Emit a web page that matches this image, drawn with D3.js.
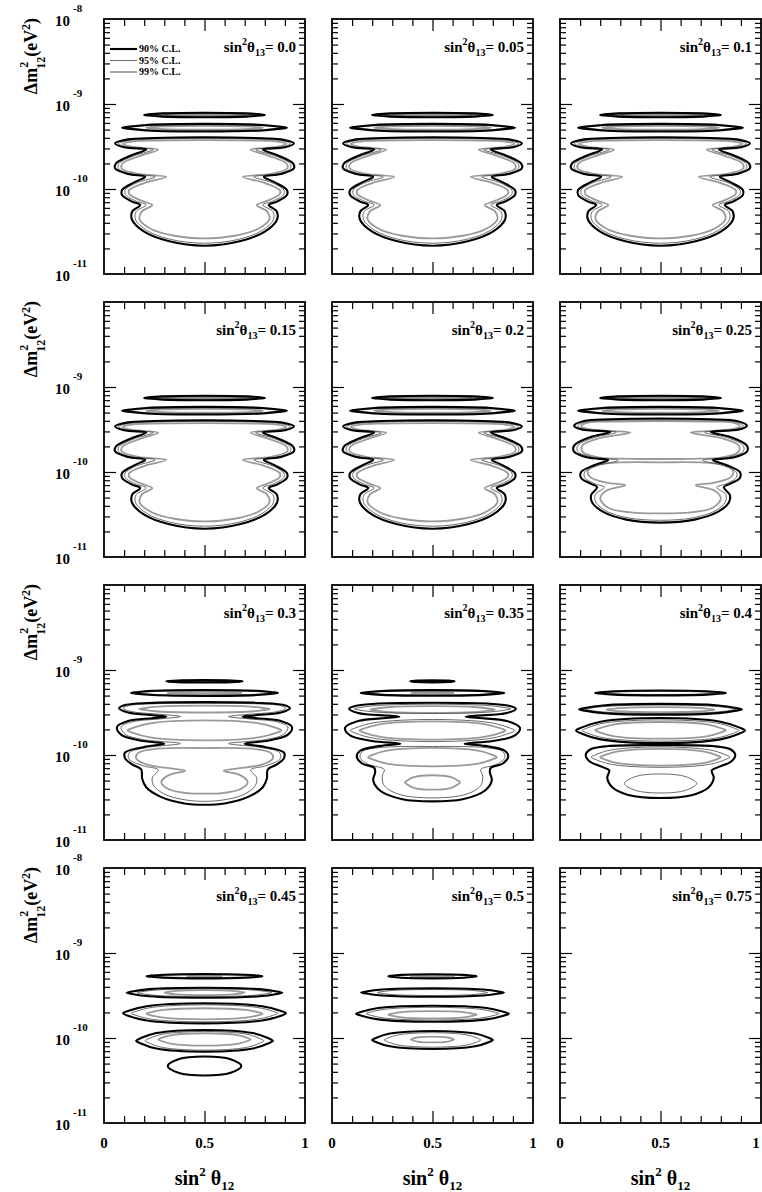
<!DOCTYPE html>
<html>
<head>
<meta charset="utf-8">
<script src="https://cdn.jsdelivr.net/npm/d3@7"></script>
<style>
body { margin:0; background:#fff; }
text { font-family:"Liberation Serif","Times New Roman",serif; font-weight:bold; fill:#000; }
</style>
</head>
<body>
<div class="container"></div>
<script>
// panel titles (value of sin^2 theta13)
var titles = ["0.0","0.05","0.1","0.15","0.2","0.25","0.3","0.35","0.4","0.45","0.5","0.75"];
var clNames = ["90% C.L.","95% C.L.","99% C.L."];
var decadeLabels = [[-8,-9,-10,-11],[-9,-10,-11],[-9,-10,-11],[-8,-9,-10,-11]];
var xTickLabels = [[0,"0"],[0.5,"0.5"],[1,"1"]];

// contour half outlines: [sin^2 theta12, log10 dm2], right half, top to bottom (mirrored about 0.5)
// sin^2 theta13 = 0 .. 0.2
var islA90 = [[0.5,-9.103],[0.71,-9.110],[0.779,-9.122],[0.80,-9.129],[0.779,-9.136],[0.71,-9.148],[0.5,-9.155]];
var islA95 = [[0.5,-9.114],[0.68,-9.118],[0.742,-9.125],[0.76,-9.129],[0.742,-9.133],[0.68,-9.140],[0.5,-9.144]];
var islA99 = [[0.5,-9.121],[0.64,-9.123],[0.686,-9.127],[0.70,-9.129],[0.686,-9.131],[0.64,-9.135],[0.5,-9.137]];
var islB90 = [[0.5,-9.234],[0.79,-9.247],[0.881,-9.268],[0.91,-9.279],[0.881,-9.290],[0.79,-9.311],[0.5,-9.324]];
var islB95 = [[0.5,-9.244],[0.77,-9.254],[0.858,-9.270],[0.885,-9.279],[0.858,-9.288],[0.77,-9.304],[0.5,-9.314]];
var islB99 = [[0.5,-9.257],[0.705,-9.263],[0.770,-9.2735],[0.79,-9.279],[0.770,-9.2845],[0.705,-9.295],[0.5,-9.301]];
var main90 = [[0.5,-9.392],[0.75,-9.40],[0.88,-9.416],[0.945,-9.463],[0.90,-9.51],[0.79,-9.535],[0.86,-9.60],[0.94,-9.698],[0.945,-9.757],[0.88,-9.824],[0.795,-9.855],[0.85,-9.922],[0.91,-10.012],[0.91,-10.071],[0.86,-10.149],[0.82,-10.188],[0.86,-10.267],[0.86,-10.365],[0.80,-10.502],[0.68,-10.612],[0.5,-10.667]];
var main95 = [[0.5,-9.405],[0.75,-9.412],[0.87,-9.428],[0.928,-9.465],[0.885,-9.507],[0.755,-9.537],[0.845,-9.605],[0.925,-9.70],[0.928,-9.757],[0.865,-9.822],[0.745,-9.857],[0.835,-9.925],[0.895,-10.012],[0.893,-10.068],[0.84,-10.143],[0.79,-10.188],[0.84,-10.265],[0.843,-10.36],[0.785,-10.49],[0.67,-10.592],[0.5,-10.638]];
var main99 = [[0.5,-9.425],[0.75,-9.43],[0.86,-9.442],[0.907,-9.468],[0.86,-9.505],[0.73,-9.537],[0.82,-9.61],[0.908,-9.70],[0.912,-9.757],[0.83,-9.822],[0.69,-9.857],[0.80,-9.93],[0.875,-10.015],[0.873,-10.065],[0.81,-10.14],[0.76,-10.19],[0.81,-10.26],[0.823,-10.355],[0.765,-10.47],[0.65,-10.55],[0.5,-10.58]];
// 0.25
var q90 = [[0.5,-9.37],[0.75,-9.38],[0.88,-9.40],[0.93,-9.455],[0.89,-9.50],[0.75,-9.53],[0.85,-9.59],[0.93,-9.69],[0.93,-9.76],[0.86,-9.83],[0.76,-9.86],[0.83,-9.92],[0.895,-10.0],[0.895,-10.07],[0.845,-10.14],[0.815,-10.18],[0.845,-10.27],[0.84,-10.36],[0.785,-10.47],[0.67,-10.56],[0.5,-10.595]];
var q95 = [[0.5,-9.385],[0.75,-9.393],[0.87,-9.41],[0.912,-9.457],[0.87,-9.50],[0.72,-9.533],[0.83,-9.595],[0.912,-9.69],[0.912,-9.757],[0.84,-9.826],[0.71,-9.862],[0.81,-9.924],[0.877,-10.0],[0.877,-10.066],[0.825,-10.14],[0.78,-10.18],[0.825,-10.266],[0.822,-10.355],[0.77,-10.46],[0.66,-10.54],[0.5,-10.568]];
var q99u = [[0.5,-9.40],[0.75,-9.407],[0.86,-9.42],[0.895,-9.46],[0.85,-9.50],[0.65,-9.535],[0.80,-9.60],[0.89,-9.69],[0.885,-9.77],[0.80,-9.83],[0.65,-9.845],[0.5,-9.847]];
var q99l = [[0.5,-9.886],[0.72,-9.89],[0.82,-9.92],[0.862,-9.99],[0.85,-10.06],[0.77,-10.125],[0.675,-10.155],[0.77,-10.22],[0.80,-10.31],[0.76,-10.42],[0.65,-10.475],[0.5,-10.487]];
// 0.3
var r90a = [[0.5,-9.119],[0.635,-9.123],[0.677,-9.1295],[0.69,-9.133],[0.677,-9.1365],[0.635,-9.143],[0.5,-9.147]];
var r95a = [[0.5,-9.127],[0.6,-9.129],[0.64,-9.1315],[0.65,-9.133],[0.64,-9.1345],[0.6,-9.137],[0.5,-9.139]];
var r90b = [[0.5,-9.235],[0.76,-9.245],[0.839,-9.261],[0.865,-9.27],[0.839,-9.279],[0.76,-9.295],[0.5,-9.305]];
var r95b = [[0.5,-9.244],[0.735,-9.252],[0.807,-9.2635],[0.83,-9.27],[0.807,-9.2765],[0.735,-9.288],[0.5,-9.296]];
var r99b = [[0.5,-9.258],[0.63,-9.262],[0.672,-9.267],[0.685,-9.27],[0.672,-9.273],[0.63,-9.278],[0.5,-9.282]];
var r90 = [[0.5,-9.378],[0.78,-9.388],[0.89,-9.41],[0.925,-9.45],[0.88,-9.50],[0.74,-9.535],[0.69,-9.549],[0.76,-9.567],[0.88,-9.60],[0.935,-9.67],[0.915,-9.76],[0.82,-9.83],[0.70,-9.868],[0.80,-9.905],[0.895,-9.97],[0.895,-10.04],[0.86,-10.11],[0.815,-10.17],[0.81,-10.28],[0.79,-10.38],[0.72,-10.49],[0.6,-10.57],[0.5,-10.585]];
var r95 = [[0.5,-9.392],[0.78,-9.40],[0.88,-9.42],[0.905,-9.45],[0.86,-9.49],[0.70,-9.525],[0.62,-9.548],[0.72,-9.575],[0.86,-9.61],[0.915,-9.67],[0.895,-9.755],[0.80,-9.82],[0.62,-9.865],[0.78,-9.91],[0.875,-9.975],[0.875,-10.05],[0.80,-10.13],[0.73,-10.175],[0.76,-10.27],[0.75,-10.37],[0.69,-10.47],[0.59,-10.53],[0.5,-10.545]];
var r99a = [[0.5,-9.42],[0.73,-9.432],[0.802,-9.45],[0.825,-9.46],[0.802,-9.47],[0.73,-9.488],[0.5,-9.50]];
var r99c = [[0.5,-9.593],[0.77,-9.627],[0.856,-9.68],[0.883,-9.71],[0.856,-9.74],[0.77,-9.793],[0.5,-9.827]];
var r99d = [[0.5,-9.918],[0.75,-9.93],[0.83,-9.975],[0.84,-10.04],[0.79,-10.11],[0.66,-10.16],[0.595,-10.185],[0.68,-10.24],[0.715,-10.32],[0.68,-10.40],[0.6,-10.445],[0.5,-10.455]];
// 0.35
var s90a = [[0.5,-9.121],[0.58,-9.124],[0.602,-9.130],[0.61,-9.133],[0.602,-9.136],[0.58,-9.142],[0.5,-9.145]];
var s90b = [[0.5,-9.237],[0.755,-9.247],[0.832,-9.262],[0.857,-9.27],[0.832,-9.278],[0.755,-9.293],[0.5,-9.303]];
var s95b = [[0.5,-9.246],[0.73,-9.253],[0.798,-9.264],[0.82,-9.27],[0.798,-9.276],[0.73,-9.287],[0.5,-9.294]];
var s99b = [[0.5,-9.262],[0.575,-9.264],[0.598,-9.268],[0.605,-9.27],[0.598,-9.272],[0.575,-9.276],[0.5,-9.278]];
var s90 = [[0.5,-9.386],[0.77,-9.395],[0.88,-9.42],[0.915,-9.455],[0.87,-9.505],[0.72,-9.537],[0.665,-9.549],[0.73,-9.565],[0.87,-9.60],[0.935,-9.68],[0.91,-9.77],[0.80,-9.835],[0.66,-9.868],[0.76,-9.893],[0.86,-9.95],[0.877,-10.02],[0.85,-10.10],[0.79,-10.15],[0.785,-10.2],[0.795,-10.3],[0.76,-10.42],[0.65,-10.52],[0.5,-10.545]];
var s95a = [[0.5,-9.402],[0.775,-9.418],[0.863,-9.443],[0.89,-9.457],[0.863,-9.471],[0.775,-9.496],[0.5,-9.512]];
var s95c = [[0.5,-9.582],[0.79,-9.62],[0.881,-9.679],[0.91,-9.712],[0.881,-9.745],[0.79,-9.804],[0.5,-9.842]];
var s95d = [[0.5,-9.90],[0.77,-9.915],[0.85,-9.96],[0.86,-10.03],[0.82,-10.11],[0.74,-10.17],[0.75,-10.25],[0.74,-10.36],[0.67,-10.46],[0.5,-10.505]];
var s99a = [[0.5,-9.426],[0.72,-9.438],[0.788,-9.456],[0.81,-9.466],[0.788,-9.476],[0.72,-9.494],[0.5,-9.506]];
var s99c = [[0.5,-9.604],[0.757,-9.636],[0.838,-9.685],[0.863,-9.712],[0.838,-9.739],[0.757,-9.788],[0.5,-9.82]];
var s99d = [[0.5,-9.917],[0.727,-9.949],[0.798,-9.998],[0.82,-10.025],[0.798,-10.052],[0.727,-10.101],[0.5,-10.133]];
var s99e = [[0.5,-10.238],[0.597,-10.263],[0.627,-10.302],[0.637,-10.323],[0.627,-10.344],[0.597,-10.383],[0.5,-10.408]];
// 0.4
var t90b = [[0.5,-9.242],[0.73,-9.25],[0.802,-9.263],[0.825,-9.27],[0.802,-9.277],[0.73,-9.29],[0.5,-9.298]];
var t95b = [[0.5,-9.252],[0.7,-9.257],[0.76,-9.2655],[0.78,-9.27],[0.76,-9.2745],[0.7,-9.283],[0.5,-9.288]];
var t90c = [[0.5,-9.399],[0.787,-9.417],[0.877,-9.446],[0.905,-9.462],[0.877,-9.478],[0.787,-9.507],[0.5,-9.525]];
var t95c = [[0.5,-9.412],[0.765,-9.427],[0.849,-9.4495],[0.875,-9.462],[0.849,-9.4745],[0.765,-9.497],[0.5,-9.512]];
var t99c = [[0.5,-9.437],[0.69,-9.446],[0.749,-9.4595],[0.768,-9.467],[0.749,-9.4745],[0.69,-9.488],[0.5,-9.497]];
var t90d = [[0.5,-9.565],[0.798,-9.608],[0.891,-9.675],[0.92,-9.712],[0.891,-9.749],[0.798,-9.816],[0.5,-9.859]];
var t95d = [[0.5,-9.587],[0.777,-9.623],[0.863,-9.681],[0.89,-9.712],[0.863,-9.743],[0.777,-9.801],[0.5,-9.837]];
var t99d = [[0.5,-9.612],[0.73,-9.64],[0.802,-9.6855],[0.825,-9.71],[0.802,-9.7345],[0.73,-9.78],[0.5,-9.808]];
var t90e = [[0.5,-9.884],[0.76,-9.895],[0.85,-9.935],[0.872,-10.0],[0.85,-10.08],[0.79,-10.14],[0.755,-10.18],[0.765,-10.27],[0.74,-10.38],[0.66,-10.47],[0.5,-10.506]];
var t95e = [[0.5,-9.905],[0.744,-9.94],[0.821,-9.995],[0.845,-10.025],[0.821,-10.055],[0.744,-10.11],[0.5,-10.145]];
var t99e = [[0.5,-9.929],[0.712,-9.958],[0.779,-10.0025],[0.8,-10.027],[0.779,-10.0515],[0.712,-10.096],[0.5,-10.125]];
var t95f = [[0.5,-10.223],[0.627,-10.256],[0.68,-10.335],[0.627,-10.414],[0.5,-10.447]];
// 0.45
var u90b = [[0.5,-9.247],[0.704,-9.255],[0.768,-9.2665],[0.788,-9.273],[0.768,-9.2795],[0.704,-9.291],[0.5,-9.299]];
var u95b = [[0.5,-9.257],[0.677,-9.262],[0.733,-9.269],[0.75,-9.273],[0.733,-9.277],[0.677,-9.284],[0.5,-9.289]];
var u99b = [[0.5,-9.267],[0.56,-9.269],[0.579,-9.2715],[0.585,-9.273],[0.579,-9.2745],[0.56,-9.277],[0.5,-9.279]];
var u90c = [[0.5,-9.408],[0.775,-9.425],[0.86,-9.452],[0.887,-9.467],[0.86,-9.482],[0.775,-9.509],[0.5,-9.526]];
var u95c = [[0.5,-9.422],[0.738,-9.435],[0.812,-9.456],[0.835,-9.467],[0.812,-9.478],[0.738,-9.499],[0.5,-9.512]];
var u99c = [[0.5,-9.437],[0.642,-9.445],[0.686,-9.459],[0.7,-9.466],[0.686,-9.473],[0.642,-9.487],[0.5,-9.495]];
var u90d = [[0.5,-9.592],[0.787,-9.626],[0.877,-9.68],[0.905,-9.71],[0.877,-9.74],[0.787,-9.794],[0.5,-9.828]];
var u95d = [[0.5,-9.61],[0.758,-9.639],[0.839,-9.685],[0.865,-9.71],[0.839,-9.735],[0.758,-9.781],[0.5,-9.81]];
var u99d = [[0.5,-9.65],[0.705,-9.669],[0.77,-9.699],[0.79,-9.715],[0.77,-9.731],[0.705,-9.761],[0.5,-9.78]];
var u90e = [[0.5,-9.905],[0.74,-9.942],[0.816,-10.001],[0.84,-10.033],[0.816,-10.065],[0.74,-10.124],[0.5,-10.161]];
var u95e = [[0.5,-9.923],[0.709,-9.955],[0.774,-10.0055],[0.795,-10.033],[0.774,-10.0605],[0.709,-10.111],[0.5,-10.143]];
var u99e = [[0.5,-9.944],[0.663,-9.965],[0.714,-9.999],[0.73,-10.017],[0.714,-10.035],[0.663,-10.069],[0.5,-10.09]];
var u90f = [[0.5,-10.218],[0.63,-10.25],[0.683,-10.33],[0.63,-10.41],[0.5,-10.442]];
// 0.5
var v90b = [[0.5,-9.25],[0.656,-9.257],[0.705,-9.268],[0.72,-9.274],[0.705,-9.28],[0.656,-9.291],[0.5,-9.298]];
var v99b = [[0.5,-9.266],[0.576,-9.268],[0.6,-9.272],[0.608,-9.274],[0.6,-9.276],[0.576,-9.28],[0.5,-9.282]];
var v90c = [[0.5,-9.415],[0.752,-9.43],[0.83,-9.4525],[0.855,-9.465],[0.83,-9.4775],[0.752,-9.5],[0.5,-9.515]];
var v95c = [[0.5,-9.43],[0.695,-9.44],[0.756,-9.456],[0.775,-9.465],[0.756,-9.474],[0.695,-9.49],[0.5,-9.5]];
var v90d = [[0.5,-9.62],[0.77,-9.647],[0.853,-9.6905],[0.88,-9.714],[0.853,-9.7375],[0.77,-9.781],[0.5,-9.808]];
var v95d = [[0.5,-9.639],[0.734,-9.661],[0.807,-9.695],[0.83,-9.714],[0.807,-9.733],[0.734,-9.767],[0.5,-9.789]];
var v99d = [[0.5,-9.683],[0.656,-9.695],[0.705,-9.715],[0.72,-9.726],[0.705,-9.737],[0.656,-9.757],[0.5,-9.769]];
var v90e = [[0.5,-9.917],[0.712,-9.948],[0.779,-9.9965],[0.8,-10.023],[0.779,-10.0495],[0.712,-10.098],[0.5,-10.129]];
var v95e = [[0.5,-9.938],[0.67,-9.963],[0.723,-10.002],[0.74,-10.023],[0.723,-10.044],[0.67,-10.083],[0.5,-10.108]];
var v99e = [[0.5,-9.984],[0.576,-9.994],[0.6,-10.0095],[0.607,-10.018],[0.6,-10.0265],[0.576,-10.042],[0.5,-10.052]];

// which contours go in which panel: [C.L. index, outline]
var lowTheta = [[0,islA90],[1,islA95],[2,islA99],[0,islB90],[1,islB95],[2,islB99],[0,main90],[1,main95],[2,main99]];
var panels = [
	lowTheta, lowTheta, lowTheta, lowTheta, lowTheta,
	[[0,islA90],[1,islA95],[2,islA99],[0,islB90],[1,islB95],[2,islB99],[0,q90],[1,q95],[2,q99u],[2,q99l]],
	[[0,r90a],[1,r95a],[0,r90b],[1,r95b],[2,r99b],[0,r90],[1,r95],[2,r99a],[2,r99c],[2,r99d]],
	[[0,s90a],[0,s90b],[1,s95b],[2,s99b],[0,s90],[1,s95a],[1,s95c],[1,s95d],[2,s99a],[2,s99c],[2,s99d],[2,s99e]],
	[[0,t90b],[1,t95b],[0,t90c],[1,t95c],[2,t99c],[0,t90d],[1,t95d],[2,t99d],[0,t90e],[1,t95e],[2,t99e],[1,t95f]],
	[[0,u90b],[1,u95b],[2,u99b],[0,u90c],[1,u95c],[2,u99c],[0,u90d],[1,u95d],[2,u99d],[0,u90e],[1,u95e],[2,u99e],[0,u90f]],
	[[0,v90b],[2,v99b],[0,v90c],[1,v95c],[0,v90d],[1,v95d],[2,v99d],[0,v90e],[1,v95e],[2,v99e]],
	[]
];

var colLeft = [104,332,560], rowTop = [19,302,585,868];
var panelW = 201, panelH = 255;
var clColor = ["#000","#5a5a5a","#9a9a9a"], clWidth = [2.1,0.9,1.8];

var svg = d3.select(".container").append("svg").attr("width",762).attr("height",1192);

function ring(half) {
	// right half + mirrored left half
	var left = half.slice(1,-1).reverse().map(function(d){ return [1-d[0], d[1]]; });
	return half.concat(left);
}

var yMinor = [], yMajor = [1e-10, 1e-9];
[-11,-10,-9].forEach(function(k){ for (var m=2; m<10; m++) yMinor.push(m*Math.pow(10,k)); });
var xMinor = [0.1,0.2,0.3,0.4,0.6,0.7,0.8,0.9], xMajor = [0.5];

function noDomain(g) { g.select(".domain").remove(); g.selectAll("line").attr("stroke-width",1.2); }

panels.forEach(function(contours, i) {
	var col = i % 3, row = Math.floor(i/3);
	var x0 = colLeft[col], y0 = rowTop[row];
	var x = d3.scaleLinear().domain([0,1]).range([x0, x0+panelW]);
	var y = d3.scaleLog().domain([1e-11,1e-8]).range([y0+panelH, y0]);
	var g = svg.append("g");

	var line = d3.line()
		.x(function(d){ return x(d[0]); })
		.y(function(d){ return y(Math.pow(10,d[1])); })
		.curve(d3.curveCatmullRomClosed.alpha(0.5));

	[2,1,0].forEach(function(cl) {
		contours.filter(function(c){ return c[0]===cl; }).forEach(function(c) {
			g.append("path")
				.attr("d", line(ring(c[1])))
				.attr("fill","none")
				.attr("stroke",clColor[cl])
				.attr("stroke-width",clWidth[cl]);
		});
	});

	// ticks on all four sides, pointing in
	g.append("g").attr("transform","translate("+x0+",0)").call(d3.axisLeft(y).tickValues(yMinor).tickSize(-6).tickFormat("")).call(noDomain);
	g.append("g").attr("transform","translate("+x0+",0)").call(d3.axisLeft(y).tickValues(yMajor).tickSize(-12).tickFormat("")).call(noDomain);
	g.append("g").attr("transform","translate("+(x0+panelW)+",0)").call(d3.axisRight(y).tickValues(yMinor).tickSize(-6).tickFormat("")).call(noDomain);
	g.append("g").attr("transform","translate("+(x0+panelW)+",0)").call(d3.axisRight(y).tickValues(yMajor).tickSize(-12).tickFormat("")).call(noDomain);
	g.append("g").attr("transform","translate(0,"+y0+")").call(d3.axisTop(x).tickValues(xMinor).tickSize(-7).tickFormat("")).call(noDomain);
	g.append("g").attr("transform","translate(0,"+y0+")").call(d3.axisTop(x).tickValues(xMajor).tickSize(-12).tickFormat("")).call(noDomain);
	g.append("g").attr("transform","translate(0,"+(y0+panelH)+")").call(d3.axisBottom(x).tickValues(xMinor).tickSize(-7).tickFormat("")).call(noDomain);
	g.append("g").attr("transform","translate(0,"+(y0+panelH)+")").call(d3.axisBottom(x).tickValues(xMajor).tickSize(-12).tickFormat("")).call(noDomain);

	g.append("rect").attr("x",x0).attr("y",y0).attr("width",panelW).attr("height",panelH)
		.attr("fill","none").attr("stroke","#000").attr("stroke-width",1.8);

	// title
	var t = g.append("text").attr("x",x0+panelW-9).attr("y",y0+33).attr("text-anchor","end").style("font-size","15px");
	t.append("tspan").text("sin");
	t.append("tspan").attr("dy",-7).style("font-size","10px").text("2");
	t.append("tspan").attr("dy",7).text("θ");
	t.append("tspan").attr("dy",4).style("font-size","10px").text("13");
	t.append("tspan").attr("dy",-4).text("= "+titles[i]);

	if (col === 0) {
		decadeLabels[row].forEach(function(k) {
			var yy = y(Math.pow(10,k));
			svg.append("text").attr("x",70).attr("y",yy+7).attr("text-anchor","end").style("font-size","15px").text("10");
			svg.append("text").attr("x",73).attr("y",yy-7).style("font-size","11px").text(String(k));
		});
		var yt = svg.append("text").attr("transform","translate(37,"+(y0+37)+") rotate(-90)")
			.attr("text-anchor","middle").style("font-size","18px");
		yt.append("tspan").text("Δm");
		yt.append("tspan").attr("dy",-9).style("font-size","12px").text("2");
		yt.append("tspan").attr("dx",-7).attr("dy",17).style("font-size","12px").text("12");
		yt.append("tspan").attr("dy",-8).text("(eV");
		yt.append("tspan").attr("dy",-7).style("font-size","12px").text("2");
		yt.append("tspan").attr("dy",7).text(")");
	}

	if (row === 3) {
		xTickLabels.forEach(function(d) {
			svg.append("text").attr("x",Math.min(x(d[0]),756)).attr("y",y0+panelH+25).attr("text-anchor","middle")
				.style("font-size","15px").text(d[1]);
		});
		var xt = svg.append("text").attr("x",x(0.5)).attr("y",y0+panelH+62).attr("text-anchor","middle").style("font-size","20px");
		xt.append("tspan").text("sin");
		xt.append("tspan").attr("dy",-9).style("font-size","13px").text("2");
		xt.append("tspan").attr("dy",9).text(" θ");
		xt.append("tspan").attr("dy",5).style("font-size","13px").text("12");
	}

	if (i === 0) {
		clNames.forEach(function(name, k) {
			var ly = y0 + 30 + k*11.5;
			g.append("line").attr("x1",x0+6).attr("x2",x0+33).attr("y1",ly).attr("y2",ly)
				.attr("stroke",clColor[k]).attr("stroke-width",clWidth[k]);
			g.append("text").attr("x",x0+35).attr("y",ly+3).style("font-size","10px").text(name);
		});
	}
});
</script>
</body>
</html>
